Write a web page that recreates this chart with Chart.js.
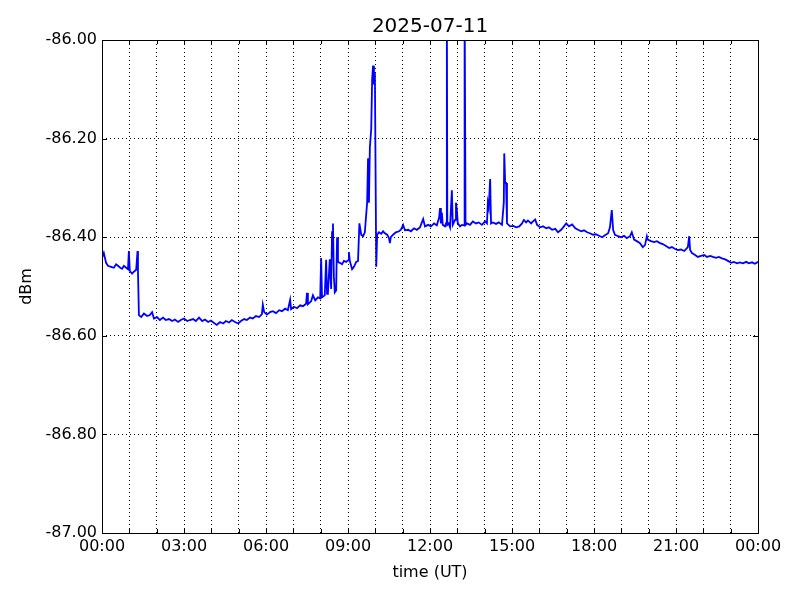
<!DOCTYPE html>
<html>
<head>
<meta charset="utf-8">
<script src="https://cdn.jsdelivr.net/npm/chart.js@4/dist/chart.umd.min.js"></script>
<style>
	html, body { margin: 0; background: #fff; }
</style>
</head>
<body>
<canvas id="chart" width="800" height="600"></canvas>
<script>
	// time of each sample, minutes after 00:00 UT
	var times = [
		0, 4, 9, 13, 20, 26, 31, 35, 40, 44, 48, 53, 57, 59, 61, 66, 70, 75, 78, 79,
		81, 86, 92, 99, 105, 110, 114, 121, 127, 134, 140, 147, 154, 160, 167, 173, 180, 187, 193, 200,
		206, 213, 220, 226, 233, 239, 246, 252, 259, 266, 272, 279, 285, 292, 299, 305, 312, 318, 325, 331,
		338, 345, 351, 353, 356, 362, 369, 375, 382, 389, 395, 402, 408, 413, 415, 421, 428, 435, 441, 448,
		450, 452, 459, 463, 468, 474, 479, 481, 483, 489, 492, 494, 496, 500, 503, 505, 507, 509, 511, 514,
		516, 518, 522, 527, 531, 536, 540, 542, 544, 549, 553, 558, 562, 565, 569, 573, 577, 579, 582, 584,
		586, 588, 591, 593, 595, 597, 599, 600, 602, 604, 608, 613, 617, 621, 626, 630, 632, 634, 639, 645,
		652, 656, 661, 665, 672, 678, 685, 691, 698, 705, 709, 716, 722, 729, 735, 740, 742, 744, 746, 748,
		753, 756, 757, 758, 761, 764, 768, 770, 775, 777, 779, 781, 786, 790, 795, 796, 798, 801, 808, 814, 821,
		827, 834, 841, 845, 847, 849, 852, 854, 858, 865, 871, 878, 882, 883, 885, 887, 889, 896, 903, 909,
		916, 922, 926, 931, 935, 942, 946, 951, 955, 962, 968, 975, 981, 988, 995, 1001, 1008, 1014, 1019, 1025,
		1032, 1039, 1045, 1052, 1058, 1065, 1071, 1078, 1084, 1091, 1098, 1104, 1111, 1115, 1119, 1122, 1126, 1133, 1139, 1146,
		1152, 1159, 1163, 1168, 1174, 1181, 1187, 1192, 1196, 1198, 1205, 1212, 1218, 1225, 1231, 1238, 1245, 1251, 1258, 1264,
		1271, 1278, 1282, 1286, 1289, 1291, 1295, 1302, 1308, 1315, 1322, 1328, 1335, 1341, 1348, 1354, 1361, 1368, 1374, 1381,
		1387, 1394, 1400, 1407, 1414, 1420, 1427, 1433, 1440
	];

	// signal level, dBm
	var levels = [
		-86.442, -86.432, -86.452, -86.458, -86.460, -86.462, -86.455, -86.458, -86.462, -86.464, -86.458, -86.462, -86.465, -86.428, -86.468, -86.474, -86.470, -86.466, -86.428, -86.470,
		-86.558, -86.562, -86.555, -86.560, -86.558, -86.552, -86.565, -86.562, -86.568, -86.563, -86.568, -86.566, -86.570, -86.567, -86.572, -86.568, -86.565, -86.570, -86.568, -86.566,
		-86.570, -86.563, -86.570, -86.567, -86.572, -86.569, -86.574, -86.578, -86.572, -86.575, -86.570, -86.573, -86.568, -86.572, -86.575, -86.570, -86.566, -86.568, -86.563, -86.565,
		-86.560, -86.562, -86.556, -86.537, -86.552, -86.557, -86.552, -86.550, -86.554, -86.548, -86.550, -86.545, -86.548, -86.527, -86.546, -86.541, -86.544, -86.538, -86.540, -86.535,
		-86.513, -86.536, -86.530, -86.518, -86.528, -86.522, -86.524, -86.442, -86.522, -86.518, -86.446, -86.515, -86.512, -86.445, -86.505, -86.390, -86.372, -86.480, -86.512, -86.508,
		-86.400, -86.450, -86.452, -86.455, -86.448, -86.450, -86.447, -86.430, -86.448, -86.465, -86.460, -86.450, -86.448, -86.372, -86.395, -86.398, -86.390, -86.365, -86.330, -86.240,
		-86.330, -86.218, -86.180, -86.080, -86.052, -86.090, -86.065, -86.200, -86.460, -86.395, -86.390, -86.393, -86.388, -86.392, -86.395, -86.402, -86.412, -86.400, -86.395, -86.390,
		-86.388, -86.385, -86.375, -86.386, -86.385, -86.388, -86.382, -86.385, -86.380, -86.363, -86.378, -86.375, -86.378, -86.372, -86.376, -86.360, -86.341, -86.372, -86.350, -86.375,
		-86.378, -86.370, -85.900, -86.375, -86.372, -86.380, -86.305, -86.375, -86.365, -86.330, -86.345, -86.372, -86.378, -86.375, -86.376, -85.900, -86.375, -86.372, -86.375, -86.368, -86.372,
		-86.370, -86.375, -86.368, -86.372, -86.330, -86.340, -86.282, -86.372, -86.370, -86.373, -86.370, -86.375, -86.330, -86.230, -86.290, -86.290, -86.372, -86.378, -86.377, -86.380,
		-86.378, -86.372, -86.365, -86.370, -86.366, -86.372, -86.368, -86.364, -86.375, -86.380, -86.378, -86.382, -86.380, -86.385, -86.383, -86.390, -86.385, -86.378, -86.372, -86.378,
		-86.374, -86.382, -86.385, -86.388, -86.386, -86.390, -86.392, -86.395, -86.394, -86.397, -86.400, -86.396, -86.392, -86.380, -86.345, -86.385, -86.395, -86.398, -86.400, -86.397,
		-86.402, -86.398, -86.390, -86.405, -86.408, -86.412, -86.420, -86.416, -86.398, -86.405, -86.408, -86.410, -86.408, -86.412, -86.414, -86.418, -86.422, -86.420, -86.424, -86.426,
		-86.425, -86.428, -86.424, -86.420, -86.398, -86.426, -86.432, -86.436, -86.440, -86.438, -86.436, -86.440, -86.438, -86.440, -86.442, -86.440, -86.443, -86.445, -86.448, -86.452,
		-86.450, -86.453, -86.451, -86.453, -86.450, -86.453, -86.451, -86.454, -86.450
	];

	var yMin = -87, yMax = -86, yStep = 0.2;
	var xMin = 0, xMax = 1440, hourStep = 60, labelStep = 180;

	var points = times.map(function(t, i) {
		return { x: t, y: levels[i] };
	});

	var font = { family: 'DejaVu Sans', size: 16 };

	function hhmm(m) {
		var h = Math.floor(m / 60) % 24;
		var mm = m % 60;
		return (h < 10 ? '0' : '') + h + ':' + (mm < 10 ? '0' : '') + mm;
	}

	// axes box + inward ticks, matplotlib classic look
	var frame = {
		id: 'frame',
		afterDraw: function(chart) {
			var a = chart.chartArea, c = chart.ctx;
			c.save();
			c.strokeStyle = '#000';
			c.lineWidth = 1;
			c.beginPath();
			chart.scales.y.ticks.forEach(function(t) {
				var y = Math.round(chart.scales.y.getPixelForValue(t.value)) + 0.5;
				c.moveTo(a.left, y); c.lineTo(a.left + 5, y);
				c.moveTo(a.right - 5, y); c.lineTo(a.right, y);
			});
			chart.scales.x.ticks.forEach(function(t) {
				var x = Math.round(chart.scales.x.getPixelForValue(t.value)) + 0.5;
				c.moveTo(x, a.bottom); c.lineTo(x, a.bottom - 4);
				c.moveTo(x, a.top); c.lineTo(x, a.top + 4);
			});
			c.stroke();
			c.strokeRect(Math.round(a.left) + 0.5, Math.round(a.top) + 0.5,
				Math.round(a.right - a.left), Math.round(a.bottom - a.top));
			c.restore();
		}
	};

	var ctx = document.getElementById('chart').getContext('2d');
	new Chart(ctx, {
		type: 'line',
		data: {
			datasets: [{
				data: points,
				borderColor: '#0000ff',
				borderWidth: 1.8,
				pointRadius: 0,
				tension: 0,
				fill: false
			}]
		},
		options: {
			responsive: false,
			animation: false,
			layout: { padding: { left: 0, right: 42, top: 0, bottom: 0 } },
			plugins: {
				legend: { display: false },
				tooltip: { enabled: false },
				title: { display: false }
			},
			scales: {
				x: {
					type: 'linear',
					min: xMin,
					max: xMax,
					afterFit: function(s) { s.height = 67; },
					ticks: {
						stepSize: hourStep,
						autoSkip: false,
						maxRotation: 0,
						color: '#000',
						font: font,
						padding: 4,
						callback: function(v) { return v % labelStep === 0 ? hhmm(v) : ''; }
					},
					grid: { color: '#000', lineWidth: 1, drawTicks: false },
					border: { display: false, dash: [1, 3] },
					title: { display: true, text: 'time (UT)', color: '#000', font: font, padding: { top: 4, bottom: 18 } }
				},
				// top axis only carries the title so it centres over the plot area
				top: {
					type: 'linear',
					position: 'top',
					min: xMin,
					max: xMax,
					afterFit: function(s) { s.height = 40; },
					ticks: { display: false },
					grid: { display: false },
					border: { display: false },
					title: {
						display: true,
						text: '2025-07-11',
						color: '#000',
						font: { family: 'DejaVu Sans', size: 20 },
						padding: { top: 15, bottom: 0 }
					}
				},
				y: {
					min: yMin,
					max: yMax,
					afterFit: function(s) { s.width = 102; },
					ticks: {
						stepSize: yStep,
						color: '#000',
						font: font,
						padding: 5,
						callback: function(v) { return v.toFixed(2); }
					},
					grid: { color: '#000', lineWidth: 1, drawTicks: false },
					border: { display: false, dash: [1, 3] },
					title: { display: true, text: 'dBm', color: '#000', font: font, padding: { top: 17, bottom: 0 } }
				}
			}
		},
		plugins: [frame]
	});
</script>
</body>
</html>
